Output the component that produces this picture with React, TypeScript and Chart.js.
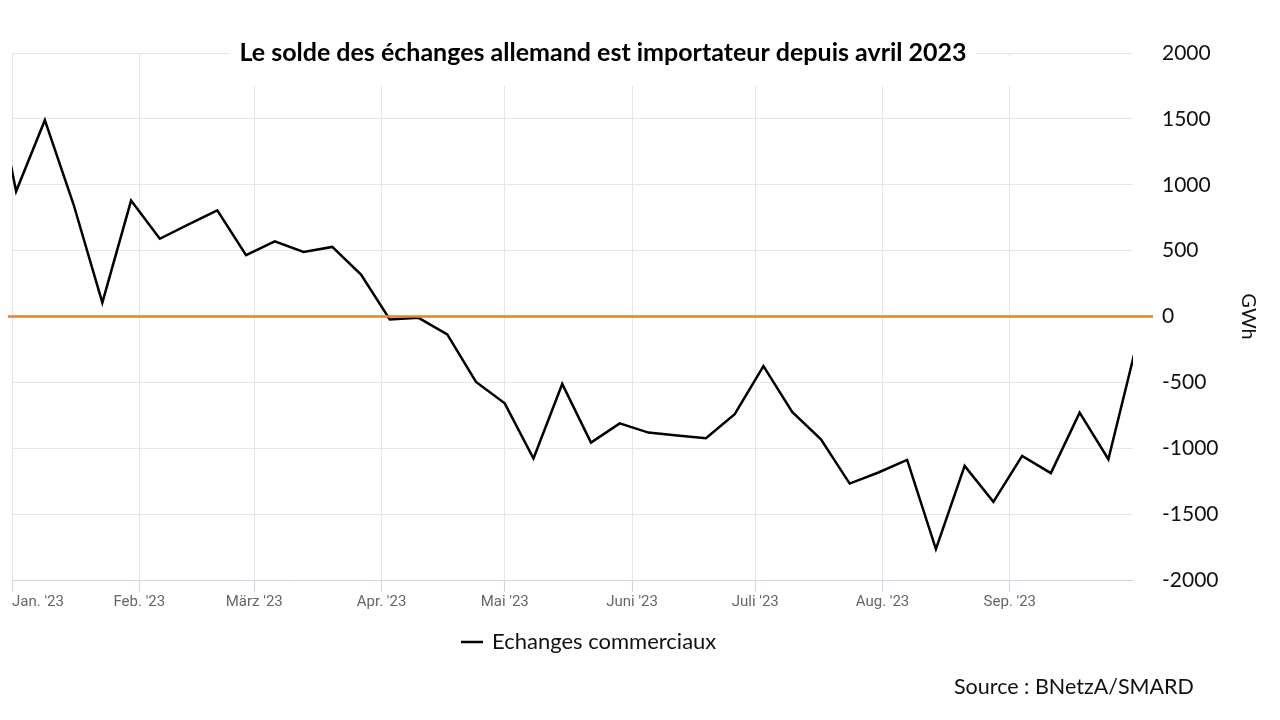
import { useEffect, useRef } from "react";
import { Chart, registerables } from "chart.js";

Chart.register(...registerables);

// Weekly start dates (Monday) of the series
const weekDates: string[] = [
  "2022-12-26", "2023-01-02", "2023-01-09", "2023-01-16", "2023-01-23", "2023-01-30",
  "2023-02-06", "2023-02-13", "2023-02-20", "2023-02-27", "2023-03-06", "2023-03-13",
  "2023-03-20", "2023-03-27", "2023-04-03", "2023-04-10", "2023-04-17", "2023-04-24",
  "2023-05-01", "2023-05-08", "2023-05-15", "2023-05-22", "2023-05-29", "2023-06-05",
  "2023-06-12", "2023-06-19", "2023-06-26", "2023-07-03", "2023-07-10", "2023-07-17",
  "2023-07-24", "2023-07-31", "2023-08-07", "2023-08-14", "2023-08-21", "2023-08-28",
  "2023-09-04", "2023-09-11", "2023-09-18", "2023-09-25", "2023-10-02",
];

// Echanges commerciaux (GWh)
const tradeBalance: number[] = [
  2050, 950, 1490, 850, 105, 880,
  590, 700, 805, 465, 570, 490,
  528, 318, -23, -10, -136, -497,
  -659, -1078, -512, -957, -811, -881,
  -904, -924, -742, -376, -725, -932,
  -1268, -1184, -1089, -1765, -1134, -1407,
  -1058, -1189, -730, -1083, -195,
];

const monthStarts: string[] = [
  "2023-01-01", "2023-02-01", "2023-03-01", "2023-04-01", "2023-05-01",
  "2023-06-01", "2023-07-01", "2023-08-01", "2023-09-01", "2023-10-01",
];
const monthLabels: string[] = [
  "Jan. '23", "Feb. '23", "März '23", "Apr. '23", "Mai '23",
  "Juni '23", "Juli '23", "Aug. '23", "Sep. '23", "",
];

const yTicks: number[] = [-2000, -1500, -1000, -500, 0, 500, 1000, 1500, 2000];

const titleText = "Le solde des échanges allemand est importateur depuis avril 2023";
const seriesLabel = "Echanges commerciaux";
const sourceText = "Source : BNetzA/SMARD";
const yAxisTitle = "GWh";

const ORIGIN = Date.UTC(2023, 0, 1);
function dayIndex(iso: string): number {
  const [y, m, d] = iso.split("-").map(Number);
  return Math.round((Date.UTC(y, m - 1, d) - ORIGIN) / 86400000);
}

const tickDays = monthStarts.map(dayIndex);

const overlayPlugin = {
  id: "overlayPlugin",
  afterDatasetsDraw(chart: any) {
    const { ctx, chartArea, scales } = chart;
    const y0 = scales.y.getPixelForValue(0);
    ctx.save();
    ctx.strokeStyle = "#ED7D31";
    ctx.lineWidth = 2.5;
    ctx.beginPath();
    ctx.moveTo(chartArea.left - 4, y0);
    ctx.lineTo(chartArea.right + 20, y0);
    ctx.stroke();
    ctx.restore();
  },
  afterDraw(chart: any) {
    const { ctx } = chart;
    ctx.save();
    // title box
    ctx.fillStyle = "#ffffff";
    ctx.fillRect(230, 38, 746, 48);
    ctx.fillRect(976, 56, 44, 30);
    ctx.fillStyle = "#000000";
    ctx.font = "bold 25px Lato";
    ctx.textAlign = "center";
    ctx.textBaseline = "middle";
    ctx.fillText(titleText, 603, 53);
    // legend
    ctx.strokeStyle = "#000000";
    ctx.lineWidth = 2.5;
    ctx.beginPath();
    ctx.moveTo(461, 642);
    ctx.lineTo(483, 642);
    ctx.stroke();
    ctx.font = "22px Lato";
    ctx.textAlign = "left";
    ctx.fillStyle = "#111111";
    ctx.fillText(seriesLabel, 492, 642);
    // source
    ctx.font = "21.5px Lato";
    ctx.fillText(sourceText, 954, 687);
    ctx.restore();
  },
};

export default function App() {
  const canvasRef = useRef<HTMLCanvasElement | null>(null);

  useEffect(() => {
    if (!canvasRef.current) return;
    const points = weekDates.map((d, i) => ({ x: dayIndex(d), y: tradeBalance[i] }));
    const lastIdx = tickDays.length - 1;
    const chart = new Chart(canvasRef.current, {
      type: "line",
      data: {
        datasets: [
          {
            label: seriesLabel,
            data: points,
            borderColor: "#000000",
            borderWidth: 2.5,
            pointRadius: 0,
            tension: 0,
            fill: false,
          },
        ],
      },
      options: {
        animation: false,
        responsive: true,
        maintainAspectRatio: false,
        layout: { padding: { left: 12, top: 53, right: 0, bottom: 0 } },
        plugins: {
          legend: { display: false },
          title: { display: false },
          tooltip: { enabled: false },
        },
        scales: {
          x: {
            type: "linear",
            min: tickDays[0],
            max: tickDays[lastIdx],
            afterBuildTicks: (scale: any) => {
              scale.ticks = tickDays.map((v) => ({ value: v }));
            },
            afterFit: (scale: any) => {
              scale.height = 140;
            },
            grid: {
              color: (c: any) => (c.index === lastIdx ? "rgba(0,0,0,0)" : "#e6e6e6"),
              tickColor: (c: any) => (c.index === lastIdx ? "rgba(0,0,0,0)" : "#ccd6eb"),
              tickLength: 12,
              drawTicks: true,
            },
            border: { display: true, color: "#ccd6eb", width: 1 },
            ticks: {
              autoSkip: false,
              maxRotation: 0,
              align: "inner",
              padding: 1,
              color: "#666666",
              font: { family: "Roboto", size: 15 },
              callback: (_v: any, i: number) => monthLabels[i],
            },
          },
          y: {
            position: "right",
            min: yTicks[0],
            max: yTicks[yTicks.length - 1],
            afterBuildTicks: (scale: any) => {
              scale.ticks = yTicks.map((v) => ({ value: v }));
            },
            afterFit: (scale: any) => {
              scale.width = 147;
            },
            grid: { color: "#e6e6e6", drawTicks: false },
            border: { display: false },
            ticks: {
              padding: 29,
              color: "#111111",
              font: { family: "Lato", size: 21 },
              callback: (v: any) => String(v),
            },
            title: {
              display: true,
              text: yAxisTitle,
              color: "#111111",
              font: { family: "Lato", size: 20 },
              padding: { top: 20, bottom: 0 },
            },
          },
        },
      },
      plugins: [overlayPlugin],
    });
    return () => chart.destroy();
  }, []);

  return (
    <div style={{ position: "absolute", left: 0, top: 0, width: 1280, height: 720, background: "#ffffff" }}>
      <canvas ref={canvasRef} />
    </div>
  );
}
